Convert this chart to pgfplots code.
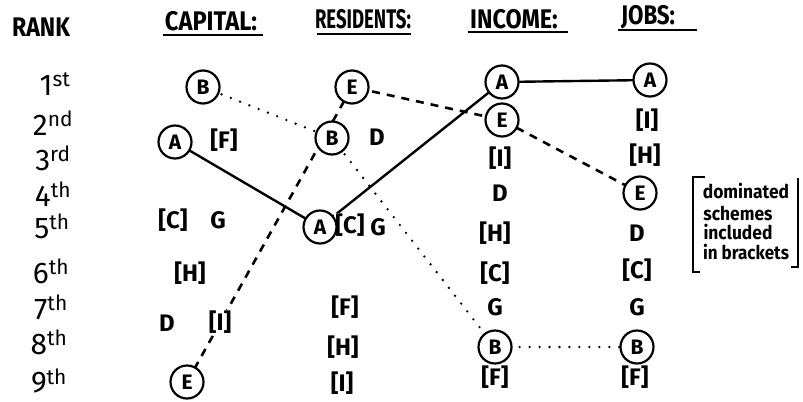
\documentclass[border=0pt]{standalone}
\usepackage{fontspec}
\setmainfont{Fira Sans}
\usepackage{pgfplots}
\pgfplotsset{compat=1.18}

\begin{document}
\begin{tikzpicture}
\begin{axis}[scale only axis,width=803bp,height=402bp,
  xmin=0,xmax=803,ymin=0,ymax=402,y dir=reverse,hide axis,clip=false]
\addplot[draw=none] coordinates {(0,0) (803,402)};
% headings
\addplot[draw=none,nodes near coords,point meta=explicit symbolic,
  nodes near coords style={anchor=center,font=\fontsize{27}{29}\bfseries\selectfont}]
  table[meta=lab] {
x y lab
41 27 \scalebox{0.86}[1]{RANK}
211 21 \scalebox{0.88}[1]{CAPITAL:}
363 19 \scalebox{0.69}[1]{RESIDENTS:}
514 19 \scalebox{0.87}[1]{INCOME:}
648 17 \scalebox{0.83}[1]{JOBS:}
};
\addplot[black,line width=2.4pt] coordinates {(163,35) (263,35)};
\addplot[black,line width=2.4pt] coordinates {(317,34) (411,34)};
\addplot[black,line width=2.4pt] coordinates {(468,32) (568,32)};
\addplot[black,line width=2.4pt] coordinates {(618,30) (697,30)};
% rank labels
\addplot[draw=none,nodes near coords,point meta=explicit symbolic,
  nodes near coords style={anchor=center,font=\fontsize{30}{32}\selectfont}]
  table[meta=lab] {
x y lab
55 84 1\textsuperscript{st}
53 123 2\textsuperscript{nd}
53 158 3\textsuperscript{rd}
53 194 4\textsuperscript{th}
52 226 5\textsuperscript{th}
51 271 6\textsuperscript{th}
51 307 7\textsuperscript{th}
49 342 8\textsuperscript{th}
49 381 9\textsuperscript{th}
};
% connecting lines: A solid, B dotted, E dashed
\addplot[black,line width=2.4pt] coordinates {(175,142) (320,227) (502,82) (650,80)};
\addplot[black,line width=2.6pt,line cap=round,dash pattern=on 0pt off 10pt] coordinates {(203,87) (332,138) (495,347) (637,347)};
\addplot[black,line width=2.6pt,dash pattern=on 8pt off 7pt] coordinates {(187,382) (352,87) (502,120) (640,193)};
% plain and bracketed schemes
\addplot[draw=none,nodes near coords,point meta=explicit symbolic,
  nodes near coords style={anchor=center,fill=white,inner sep=1pt,font=\fontsize{24}{26}\bfseries\selectfont}]
  table[meta=lab] {
x y lab
224 140 [F]
173 220 [C]
218 220 G
190 273 [H]
167 323 D
220 322 [I]
377 137 D
350 225 [C]
378 227 G
345 307 [F]
343 347 [H]
342 383 [I]
500 158 [I]
500 193 D
495 233 [H]
495 273 [C]
495 307 G
495 377 [F]
647 120 [I]
645 155 [H]
637 233 D
637 270 [C]
637 307 G
635 377 [F]
};
% circled schemes A, B, E
\addplot[draw=none,nodes near coords,point meta=explicit symbolic,
  nodes near coords style={anchor=center,circle,draw=black,fill=white,line width=2.2pt,
    minimum size=33bp,inner sep=0pt,font=\fontsize{21}{23}\bfseries\selectfont}]
  table[meta=lab] {
x y lab
203 87 B
175 142 A
187 382 E
352 87 E
332 138 B
320 227 A
502 82 A
502 120 E
495 347 B
650 80 A
640 193 E
637 347 B
};
% note on dominated schemes
\addplot[draw=none,nodes near coords,point meta=explicit symbolic,
  nodes near coords style={anchor=center,font=\fontsize{19}{21}\bfseries\selectfont}]
  table[meta=lab] {
x y lab
746 191 \scalebox{0.92}[1]{dominated}
738 213 \scalebox{0.92}[1]{schemes}
738 232 \scalebox{0.92}[1]{included}
746 252 \scalebox{0.9}[1]{in brackets}
};
\addplot[black,line width=2pt] coordinates {(705,177) (693,177) (693,272) (700,272)};
\addplot[black,line width=2pt] coordinates {(798,178) (798,267) (791,267)};
\end{axis}
\end{tikzpicture}
\end{document}
